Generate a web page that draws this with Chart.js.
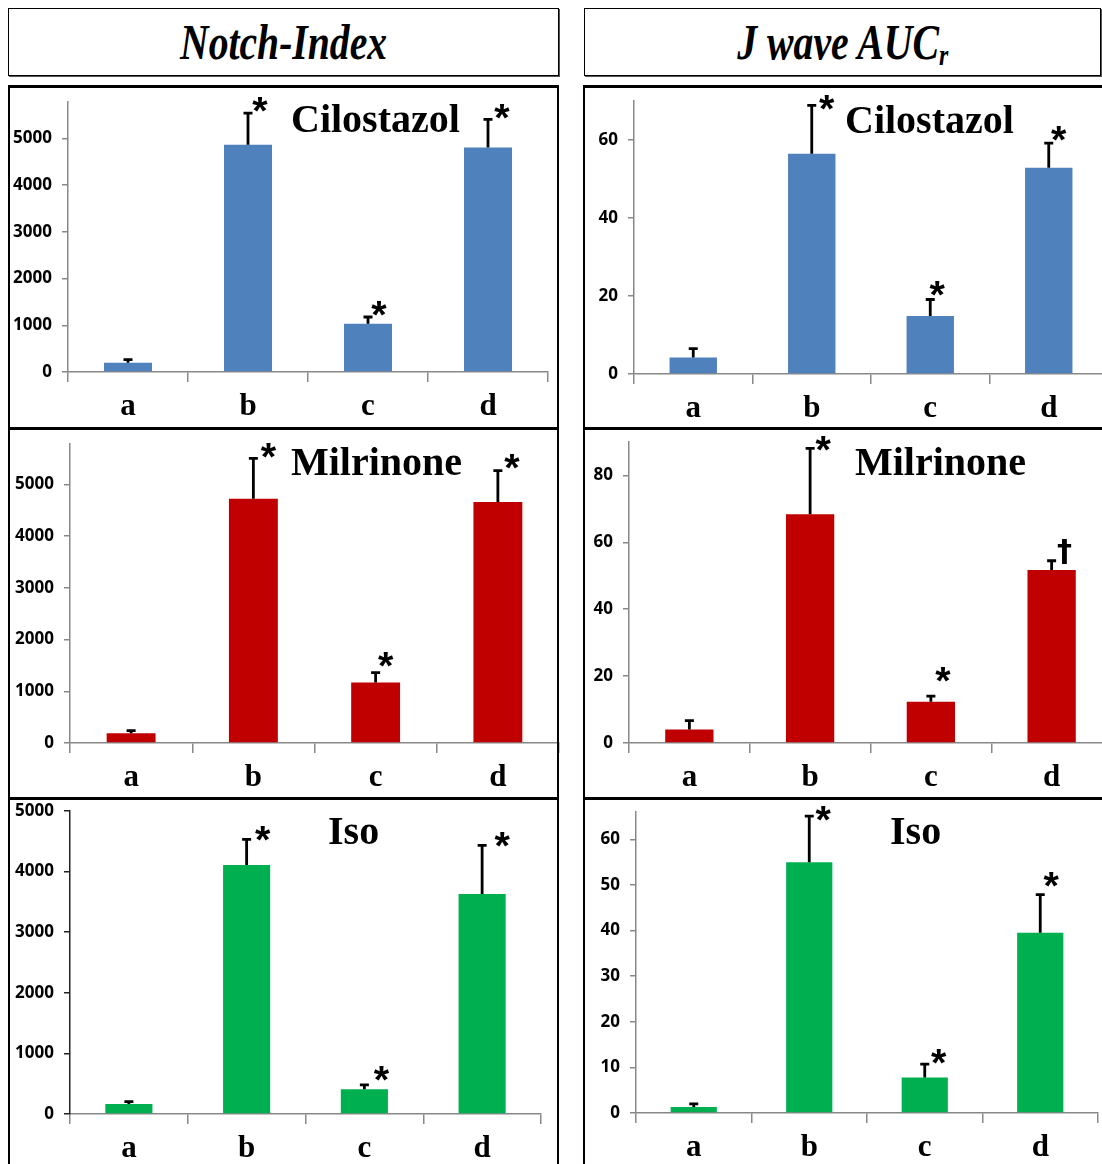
<!DOCTYPE html>
<html>
<head>
<meta charset="utf-8">
<script src="https://cdn.jsdelivr.net/npm/chart.js@4.4.1/dist/chart.umd.min.js"></script>
<style>
html, body { margin: 0; padding: 0; background: #fff; width: 1102px; height: 1164px; overflow: hidden; }
#page { position: relative; width: 1102px; height: 1164px; overflow: hidden; }
canvas { position: absolute; }
.hdr { position: absolute; border: 1px solid #000; box-shadow: 1px 1px 0 #555; display: flex; align-items: center; justify-content: center;
       font-family: "Liberation Serif", serif; font-weight: bold; font-style: italic; font-size: 50px; overflow: hidden; }
.hdr span { display: inline-block; white-space: nowrap; transform-origin: center; }
.hdr sub { font-size: 60%; vertical-align: -6px; }
.ln { position: absolute; background: #000; z-index: 5; }
</style>
</head>
<body>
<div id="page">
  <div class="hdr" style="left:8px;top:8px;width:549px;height:66px;"><span data-w="207">Notch-Index</span></div>
  <div class="hdr" style="left:584px;top:8px;width:515px;height:66px;"><span data-w="211">J wave AUC<sub>r</sub></span></div>

  <div class="ln" style="left:8px;top:85px;width:2px;height:1079px;"></div>
  <div class="ln" style="left:557px;top:85px;width:2px;height:1079px;"></div>
  <div class="ln" style="left:583px;top:85px;width:2px;height:1079px;"></div>
  <div class="ln" style="left:8px;top:85px;width:551px;height:3px;"></div>
  <div class="ln" style="left:583px;top:85px;width:519px;height:3px;"></div>
  <div class="ln" style="left:8px;top:427px;width:551px;height:3px;"></div>
  <div class="ln" style="left:583px;top:427px;width:519px;height:3px;"></div>
  <div class="ln" style="left:8px;top:797px;width:551px;height:3px;"></div>
  <div class="ln" style="left:583px;top:797px;width:519px;height:3px;"></div>
</div>
<script>
// groups on the x axis
var categories = ['a', 'b', 'c', 'd'];

// Notch-Index (mean and SEM)
var notchCilostazol = [200, 4865, 1034, 4807];
var notchCilostazolSem = [64, 677, 143, 599];
var notchMilrinone = [187, 4723, 1168, 4658];
var notchMilrinoneSem = [52, 780, 193, 607];
var notchIso = [165, 4108, 407, 3629];
var notchIsoSem = [39, 424, 72, 804];

// J wave AUCr (mean and SEM)
var jwaveCilostazol = [4.2, 56.5, 14.9, 52.9];
var jwaveCilostazolSem = [2.3, 12.4, 4.2, 6.3];
var jwaveMilrinone = [4.0, 68.4, 12.3, 51.7];
var jwaveMilrinoneSem = [2.7, 19.7, 1.7, 2.8];
var jwaveIso = [1.3, 55.0, 7.8, 39.5];
var jwaveIsoSem = [0.7, 10.1, 2.9, 8.4];

// tick labels
var notchTicks = [0, 1000, 2000, 3000, 4000, 5000];
var jwaveCilostazolTicks = [0, 20, 40, 60];
var jwaveMilrinoneTicks = [0, 20, 40, 60, 80];
var jwaveIsoTicks = [0, 10, 20, 30, 40, 50, 60];

// significance marks
var marksStar = ['', '*', '*', '*'];
var marksMilrinoneJ = ['', '*', '*', '\u2020'];

var BLUE = '#4F81BD', RED = '#C00000', GREEN = '#00B050';

// layout in page pixels: box = canvas, area = plot area
var panels = [
  { title: 'Cilostazol', means: notchCilostazol, sem: notchCilostazolSem, ticks: notchTicks, max: 5780, color: BLUE, marks: marksStar,
    box: [10, 89, 558, 427], area: [68, 102, 548, 372], titlePos: [291, 132], dx: [0, 12, 11, 14], dy: [0, 9, 9, 8], yAxis: '#888' },
  { title: 'Cilostazol', means: jwaveCilostazol, sem: jwaveCilostazolSem, ticks: jwaveCilostazolTicks, max: 70, color: BLUE, marks: marksStar,
    box: [585, 89, 1112, 427], area: [634, 101, 1108, 374], titlePos: [845, 133], dx: [0, 15, 7, 10], dy: [0, 3, 11, 10], yAxis: '#888' },
  { title: 'Milrinone', means: notchMilrinone, sem: notchMilrinoneSem, ticks: notchTicks, max: 5780, color: RED, marks: marksStar,
    box: [10, 431, 562, 797], area: [70, 444, 559, 743], titlePos: [291, 475], dx: [0, 15, 10, 14], dy: [0, 8, 13, 9], yAxis: '#888' },
  { title: 'Milrinone', means: jwaveMilrinone, sem: jwaveMilrinoneSem, ticks: jwaveMilrinoneTicks, max: 90, color: RED, marks: marksMilrinoneJ,
    box: [585, 431, 1116, 797], area: [629, 442, 1112, 743], titlePos: [855, 475], dx: [0, 13, 12, 13], dy: [0, 5, 22, 9], yAxis: '#888' },
  { title: 'Iso', means: notchIso, sem: notchIsoSem, ticks: notchTicks, max: 5000, color: GREEN, marks: marksStar,
    box: [10, 801, 556, 1164], area: [70, 811, 541, 1114], titlePos: [328, 844], dx: [0, 16, 17, 20], dy: [0, 6, 11, 6], yAxis: '#222' },
  { title: 'Iso', means: jwaveIso, sem: jwaveIsoSem, ticks: jwaveIsoTicks, max: 66, color: GREEN, marks: marksStar,
    box: [585, 801, 1110, 1164], area: [636, 812, 1098, 1113], titlePos: [890, 844], dx: [0, 14, 14, 11], dy: [0, 2.5, 8, 15], yAxis: '#888' }
];

// font size so the glyph reaches a given pixel height
function fitFont(ctx, ch, family, targetH) {
  ctx.font = 'bold 100px ' + family;
  var m = ctx.measureText(ch);
  var h = m.actualBoundingBoxAscent + m.actualBoundingBoxDescent;
  return 100 * targetH / h;
}

var barExtras = {
  id: 'barExtras',
  afterDatasetsDraw: function (chart, args, o) {
    var ctx = chart.ctx;
    var meta = chart.getDatasetMeta(0);
    var y = chart.scales.y;
    ctx.save();
    ctx.strokeStyle = '#000';
    ctx.fillStyle = '#000';
    ctx.lineWidth = 2.8;
    for (var i = 0; i < o.means.length; i++) {
      var x = meta.data[i].x;
      var y0 = y.getPixelForValue(o.means[i]);
      var y1 = y.getPixelForValue(o.means[i] + o.sem[i]);
      ctx.beginPath();
      ctx.moveTo(x, y0);
      ctx.lineTo(x, y1 + 1);
      ctx.moveTo(x - 4.5, y1);
      ctx.lineTo(x + 4.5, y1);
      ctx.stroke();
      var mk = o.marks[i];
      if (mk) {
        var fam = mk === '*' ? '"Liberation Sans"' : '"DejaVu Sans"';
        var size = fitFont(ctx, mk, fam, mk === '*' ? 15 : 25);
        ctx.font = 'bold ' + size + 'px ' + fam;
        var m = ctx.measureText(mk);
        var cy = y1 - o.dy[i];
        var base = cy + (m.actualBoundingBoxAscent - m.actualBoundingBoxDescent) / 2;
        ctx.textAlign = 'center';
        ctx.textBaseline = 'alphabetic';
        ctx.fillText(mk, x + o.dx[i], base);
      }
    }
    ctx.font = 'bold 40px "Liberation Serif"';
    ctx.textAlign = 'left';
    ctx.textBaseline = 'alphabetic';
    ctx.fillText(o.title, o.titleX, o.titleY);
    ctx.restore();
  }
};

var page = document.getElementById('page');

panels.forEach(function (p) {
  var bl = p.box[0], bt = p.box[1], bw = p.box[2] - p.box[0], bh = p.box[3] - p.box[1];
  var cv = document.createElement('canvas');
  cv.width = bw;
  cv.height = bh;
  cv.style.left = bl + 'px';
  cv.style.top = bt + 'px';
  cv.style.width = bw + 'px';
  cv.style.height = bh + 'px';
  page.appendChild(cv);

  var yW = p.area[0] - bl;
  var xH = p.box[3] - p.area[3];

  new Chart(cv, {
    type: 'bar',
    data: {
      labels: categories,
      datasets: [{
        data: p.means,
        backgroundColor: p.color,
        borderWidth: 0,
        barPercentage: 0.4,
        categoryPercentage: 1.0
      }]
    },
    options: {
      responsive: false,
      animation: false,
      layout: { padding: { left: 0, top: p.area[1] - bt, right: p.box[2] - p.area[2], bottom: 0 } },
      plugins: {
        legend: { display: false },
        tooltip: { enabled: false },
        barExtras: {
          means: p.means, sem: p.sem, marks: p.marks, dx: p.dx, dy: p.dy,
          title: p.title, titleX: p.titlePos[0] - bl, titleY: p.titlePos[1] - bt
        }
      },
      scales: {
        x: {
          afterFit: function (s) { s.height = xH; s.paddingLeft = 0; s.paddingRight = 0; },
          grid: { display: true, drawOnChartArea: false, drawTicks: true, tickLength: 10, color: '#888', lineWidth: 1.5 },
          border: { display: true, color: '#888', width: 1.5 },
          ticks: { color: '#000', padding: 6, font: { family: '"Liberation Serif"', weight: 'bold', size: 31 } }
        },
        y: {
          min: 0,
          max: p.max,
          afterFit: function (s) { s.width = yW; s.paddingTop = 0; s.paddingBottom = 0; },
          afterBuildTicks: function (s) { s.ticks = p.ticks.map(function (v) { return { value: v }; }); },
          grid: { display: true, drawOnChartArea: false, drawTicks: true, tickLength: 6, color: p.yAxis, lineWidth: 1.5 },
          border: { display: true, color: p.yAxis, width: 1.5 },
          ticks: {
            color: '#000', padding: 10,
            font: { family: '"Open Sans"', weight: 'bold', size: 17 },
            callback: function (v) { return String(v); }
          }
        }
      }
    },
    plugins: [barExtras]
  });
});

// squeeze the column headers to the narrow face of the original
document.querySelectorAll('.hdr span').forEach(function (s) {
  var w = s.getBoundingClientRect().width;
  s.style.transform = 'scaleX(' + (parseFloat(s.getAttribute('data-w')) / w) + ')';
});
</script>
</body>
</html>
